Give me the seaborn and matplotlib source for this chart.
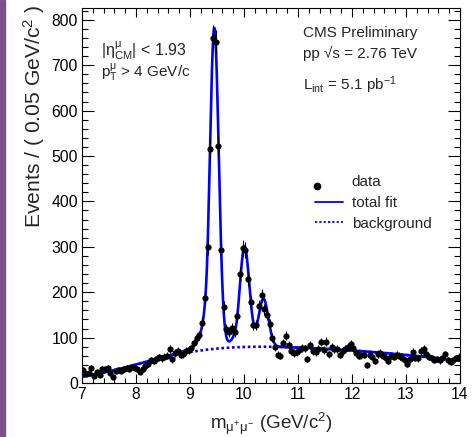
import numpy as np
import pandas as pd
import matplotlib
matplotlib.use("Agg")
import matplotlib.pyplot as plt
from matplotlib.lines import Line2D
from matplotlib.patches import Rectangle
from matplotlib.ticker import MultipleLocator
from matplotlib.legend_handler import HandlerLine2D
import seaborn as sns
from math import erf

# ---------------- data ----------------
bin_width = 0.05
mass_low = 7.0
counts_low = [29, 20, 23, 33, 15, 25, 17, 31, 30, 33,
              22, 14, 27, 28, 27, 30, 34, 31, 36, 33,
              30, 25, 31, 38, 42, 51, 48, 52, 57, 54,
              58, 60, 74, 52, 66, 70, 62, 64, 71, 72]          # 7.025 .. 8.975
counts_peak = [76, 88, 99, 105, 133, 187, 300, 515, 760, 751,
               522, 292, 167, 118, 113, 122, 112, 147, 240, 297,
               293, 229, 178, 128, 128, 170, 193, 162, 150, 130,
               100, 80]                                          # 9.025 .. 10.575
counts_high = [62, 60, 88, 104, 84, 70, 66, 68,
               72, 78, 76, 53, 84, 70, 68, 74, 90, 72,
               91, 63, 79, 74, 75, 62, 71, 75, 80, 86,
               76, 66, 60, 61, 62, 40, 62, 58, 48, 64,
               66, 60, 56, 48, 60, 58, 62, 60, 55, 50,
               41, 52, 69, 55, 54, 70, 75, 64, 58, 55,
               51, 53, 50, 54, 63, 50, 47, 50, 55, 58]           # 10.625 .. 13.975

# fit parameters
peak_mass = [9.45, 10.01, 10.36]
peak_height = [705, 218, 106]
peak_sigma = [0.082, 0.087, 0.090]
cb_alpha, cb_n = 1.5, 3.0
bkg_poly = [81.0, -3.5, -1.5]     # about m = 10.4
bkg_pivot = 10.4
bkg_turn_on = [8.0, 1.55]          # erf mean, width

x_ticks = [7, 8, 9, 10, 11, 12, 13, 14]
y_ticks = [0, 100, 200, 300, 400, 500, 600, 700, 800]

# ---------------- build tables ----------------
counts = np.array(counts_low + counts_peak + counts_high, dtype=float)
mass = mass_low + bin_width * (np.arange(len(counts)) + 0.5)
df = pd.DataFrame({"mass": mass, "events": counts, "err": np.sqrt(counts)})


def crystal_ball(z):
    a, n = cb_alpha, cb_n
    A = (n / a) ** n * np.exp(-a * a / 2)
    B = n / a - a
    out = np.exp(-z * z / 2)
    tail = z < -a
    out[tail] = A * (B - z[tail]) ** (-n)
    return out


def background(m):
    d = m - bkg_pivot
    poly = bkg_poly[0] + bkg_poly[1] * d + bkg_poly[2] * d * d
    turn = np.array([(1 + erf((v - bkg_turn_on[0]) / bkg_turn_on[1])) / 2 for v in m])
    return poly * turn


grid = np.linspace(7, 14, 1401)
bkg = background(grid)
total = bkg.copy()
for mu, h, s in zip(peak_mass, peak_height, peak_sigma):
    total += h * crystal_ball((grid - mu) / s)
fit = pd.DataFrame({"mass": grid, "total": total, "bkg": bkg})

# ---------------- style ----------------
sns.set_theme(style="ticks")
plt.rcParams["font.family"] = ["Liberation Sans", "DejaVu Sans"]
plt.rcParams["mathtext.fontset"] = "custom"
plt.rcParams["mathtext.rm"] = "Liberation Sans"
plt.rcParams["mathtext.it"] = "Liberation Sans"
plt.rcParams["mathtext.bf"] = "Liberation Sans:bold"
plt.rcParams["axes.linewidth"] = 0.8

W, H = 473, 437
fig = plt.figure(figsize=(W / 100, H / 100), dpi=100)
fig.patch.set_facecolor("white")
ax = fig.add_axes([82 / W, (H - 383) / H, (460 - 82) / W, (383 - 8) / H])
ax.set_facecolor("white")

# purple strip at the left edge
fig.patches.append(Rectangle((0, 0), 5 / W, 1, transform=fig.transFigure,
                             color="#7d4f87", zorder=0))

blue = "#0000ff"
sns.lineplot(data=fit, x="mass", y="bkg", ax=ax, color=blue, lw=1.9,
             linestyle=(0, (1.0, 1.0)), zorder=2)
sns.lineplot(data=fit, x="mass", y="total", ax=ax, color=blue, lw=1.9, zorder=3)
ax.errorbar(df["mass"], df["events"], yerr=df["err"], fmt="none",
            ecolor="black", elinewidth=0.8, capsize=0, zorder=4)
sns.scatterplot(data=df, x="mass", y="events", ax=ax, color="black", s=20,
                edgecolor="black", linewidth=0, zorder=5)

ax.set_xlim(7, 14)
ax.set_ylim(0, 826)
ax.set_xticks(x_ticks)
ax.set_yticks(y_ticks)
ax.xaxis.set_minor_locator(MultipleLocator(0.2))
ax.yaxis.set_minor_locator(MultipleLocator(20))
ax.tick_params(which="both", direction="in", top=True, right=True,
               colors="black", width=0.8, labelsize=11.3)
ax.tick_params(axis="x", which="major", length=6.5, pad=3)
ax.tick_params(axis="x", which="minor", length=3.6)
ax.tick_params(axis="y", which="major", length=8.5, pad=3)
ax.tick_params(axis="y", which="minor", length=4.3)
for sp in ax.spines.values():
    sp.set_visible(True)
    sp.set_color("black")

ax.set_xlabel(r"m$_{\mu^{+}\mu^{-}}$ (GeV/c$^{2}$)", fontsize=13.5, labelpad=6)
ax.set_ylabel(r"Events / ( 0.05 GeV/c$^{2}$ )", fontsize=15.2, loc="top", labelpad=3)
ax.yaxis.label.set_y(1.008)

# annotations
ax.text(101 / W, 1 - 55 / H, r"$|\eta^{\mu}_{\mathrm{CM}}|$ < 1.93", transform=fig.transFigure,
        fontsize=11.5, ha="left", va="baseline")
ax.text(101 / W, 1 - 77 / H, r"p$^{\mu}_{\mathrm{T}}$ > 4 GeV/c", transform=fig.transFigure,
        fontsize=11, ha="left", va="baseline")
ax.text(303 / W, 1 - 37 / H, "CMS Preliminary", transform=fig.transFigure,
        fontsize=11, ha="left", va="baseline")
ax.text(303 / W, 1 - 58 / H, "pp \u221as = 2.76 TeV", transform=fig.transFigure,
        fontsize=11, ha="left", va="baseline")
ax.text(303 / W, 1 - 90 / H, r"L$_{\mathrm{int}}$ = 5.1 pb$^{-1}$", transform=fig.transFigure,
        fontsize=11, ha="left", va="baseline")


class LeftMarker(HandlerLine2D):
    """ROOT-style legend marker: sits at the left of the entry, a bit low."""
    def create_artists(self, legend, orig_handle, xdescent, ydescent,
                       width, height, fontsize, trans):
        arts = super().create_artists(legend, orig_handle, xdescent, ydescent,
                                      width, height, fontsize, trans)
        line = arts[0]
        line.set_markevery(None)
        line.set_data([-xdescent + 1.6], [(height - ydescent) / 2 - 4.0])
        return arts


data_handle = Line2D([], [], marker="o", color="black", ls="none", ms=4.5)
handles = [data_handle,
           Line2D([], [], color=blue, lw=1.3),
           Line2D([], [], color=blue, lw=1.3, linestyle=(0, (1.2, 1.2)))]
ax.legend(handles, ["data", "total fit", "background"], loc="upper left",
          bbox_to_anchor=(315 / W, 1 - 175 / H), bbox_transform=fig.transFigure,
          frameon=False, fontsize=11, handlelength=1.8, handletextpad=0.6,
          labelspacing=0.45, borderpad=0, borderaxespad=0,
          handler_map={data_handle: LeftMarker(numpoints=1)})

fig.savefig("out.png", dpi=100)
